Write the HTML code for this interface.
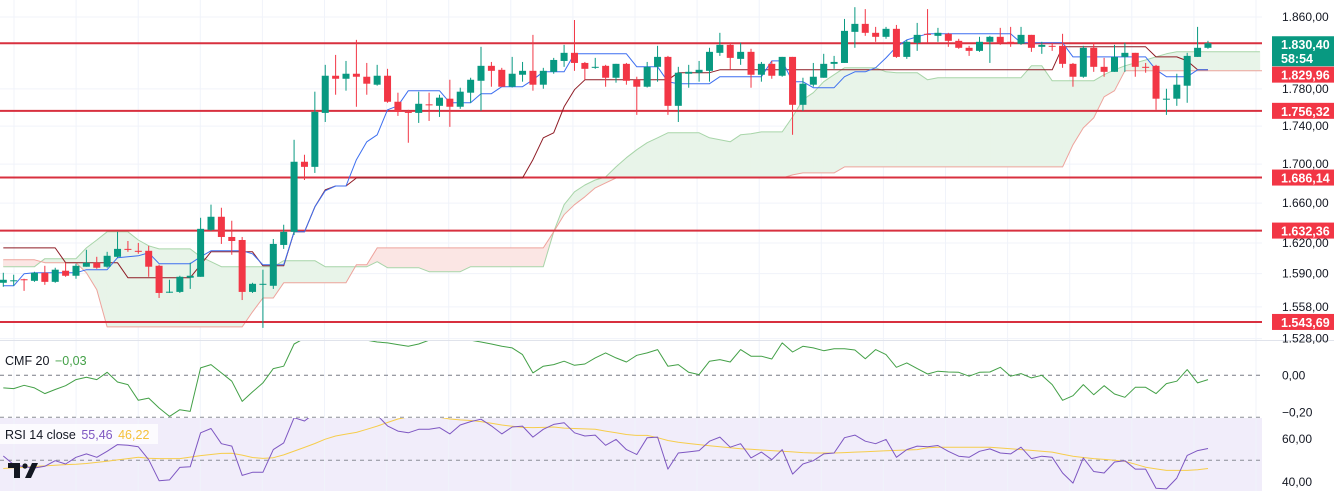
<!DOCTYPE html>
<html><head><meta charset="utf-8"><style>
html,body{margin:0;padding:0;background:#fff;}
svg{display:block;font-family:"Liberation Sans",sans-serif;}
</style></head><body>
<svg id="chart" width="1334" height="491" xmlns="http://www.w3.org/2000/svg">
<defs>
<clipPath id="cMain"><rect x="0" y="0" width="1262" height="340"/></clipPath>
<clipPath id="cCmf"><rect x="0" y="341" width="1262" height="76"/></clipPath>
<clipPath id="cRsi"><rect x="0" y="418" width="1262" height="73"/></clipPath>
</defs>
<rect x="0" y="418" width="1262" height="73" fill="#f1edfa"/>
<g id="grid"></g>
<g id="cloud" clip-path="url(#cMain)"></g>
<g id="levels"></g>
<g id="lines" clip-path="url(#cMain)"></g>
<g id="candles" clip-path="url(#cMain)"></g>
<line x1="0" y1="340.5" x2="1334" y2="340.5" stroke="#e0e3eb"/>
<g id="cmfg"></g>
<g id="rsig"></g>
<g id="axis"></g>
<g>
<text x="5" y="365" font-size="12.5" fill="#131722">CMF 20 <tspan fill="#43a047" dx="2">−0,03</tspan></text>
</g>
<g>
<rect x="0" y="424" width="158" height="20" fill="#ffffff" opacity="0.75"/>
<text x="5" y="439" font-size="12.5" fill="#131722">RSI 14 close <tspan fill="#7e57c2" dx="2">55,46</tspan> <tspan fill="#f5c13b" dx="2">46,22</tspan></text>
</g>
<g>
<rect x="8" y="463" width="12" height="5" fill="#131722"/>
<rect x="14" y="463" width="6" height="15" fill="#131722"/>
<circle cx="25" cy="466" r="2.6" fill="#131722"/>
<polygon points="32,463 38,463 31,478 25,478" fill="#131722"/>
</g>
</svg>
<script>
// ---- price data (in 1/1000 units, e.g. 1830.4 = 1.830,40) ----
const openV=[1581.1,1583.0,1584.5,1583.0,1590.8,1582.0,1592.8,1587.9,1596.7,1600.6,1596.7,1606.4,1614.2,1612.3,1612.3,1597.6,1572.0,1572.3,1586.0,1586.9,1633.1,1646.2,1626.0,1623.0,1572.3,1579.6,1578.2,1618.1,1631.1,1702.5,1697.2,1754.1,1794.4,1791.1,1796.6,1793.3,1784.6,1794.4,1766.1,1755.2,1754.1,1763.3,1761.7,1769.4,1760.7,1775.9,1788.9,1805.3,1800.9,1782.4,1795.5,1799.8,1784.6,1798.7,1810.7,1819.7,1808.5,1803.1,1805.3,1792.2,1807.5,1790.0,1782.4,1804.2,1815.2,1761.7,1796.6,1797.7,1799.8,1819.7,1828.6,1813.0,1820.8,1795.5,1807.5,1794.4,1815.2,1762.8,1784.6,1792.2,1807.5,1808.5,1843.2,1852.2,1842.1,1837.6,1846.6,1815.2,1830.9,1841.0,1838.7,1841.0,1833.1,1825.3,1821.9,1832.0,1837.6,1832.0,1829.8,1839.8,1826.4,1827.5,1827.5,1807.5,1793.3,1825.3,1804.2,1798.7,1815.2,1819.7,1804.2,1805.3,1769.0,1769.4,1783.5,1815.2,1825.3];
const closeV=[1584.0,1583.5,1584.0,1590.8,1582.0,1593.8,1587.9,1597.6,1600.6,1595.7,1607.4,1614.2,1613.3,1611.3,1596.7,1571.3,1572.5,1586.9,1587.9,1634.1,1646.2,1626.0,1622.0,1572.3,1580.1,1580.1,1619.1,1631.1,1702.5,1697.2,1755.2,1794.4,1791.1,1796.6,1793.3,1785.7,1794.4,1766.1,1755.2,1754.1,1763.9,1762.8,1770.5,1760.7,1777.0,1790.0,1805.3,1799.8,1782.4,1796.6,1799.8,1784.6,1799.8,1811.8,1819.7,1808.5,1802.0,1804.2,1792.2,1807.5,1788.9,1782.4,1804.2,1815.2,1761.7,1797.7,1798.7,1800.9,1820.8,1828.6,1814.1,1820.8,1795.5,1807.5,1794.4,1815.2,1762.8,1785.7,1793.3,1807.5,1809.6,1844.3,1852.2,1842.1,1837.6,1846.6,1815.2,1832.0,1839.8,1839.8,1842.1,1833.1,1825.3,1821.9,1832.0,1837.6,1830.9,1829.8,1839.8,1825.3,1828.6,1826.4,1807.5,1793.3,1825.3,1804.2,1798.7,1815.2,1819.7,1804.2,1803.1,1769.4,1769.4,1784.6,1816.3,1825.3,1830.4];
const highV=[1590.8,1588.9,1585.0,1591.8,1597.6,1595.7,1600.6,1599.6,1613.3,1606.4,1611.3,1631.1,1622.0,1620.1,1617.2,1598.6,1584.0,1587.9,1600.6,1645.2,1658.4,1655.3,1642.2,1626.0,1581.1,1593.8,1624.0,1638.2,1725.5,1709.8,1777.0,1806.4,1817.4,1810.7,1834.2,1808.5,1806.4,1802.0,1775.9,1757.4,1777.0,1775.9,1773.7,1790.0,1781.3,1792.2,1826.4,1809.6,1803.1,1815.2,1809.6,1839.8,1803.1,1814.1,1828.6,1856.6,1809.6,1814.1,1806.4,1807.5,1808.5,1793.3,1809.6,1827.5,1816.3,1804.2,1806.4,1810.7,1825.3,1842.1,1830.9,1830.9,1824.2,1809.6,1810.7,1815.2,1815.2,1792.2,1808.5,1818.6,1816.3,1857.8,1871.2,1869.0,1848.8,1848.8,1851.0,1834.2,1853.3,1869.0,1847.7,1842.1,1835.4,1827.5,1837.6,1838.7,1847.7,1848.8,1848.8,1839.8,1832.0,1830.9,1841.0,1808.5,1827.5,1830.9,1814.1,1828.6,1830.9,1819.7,1808.5,1806.4,1780.2,1796.6,1819.7,1848.8,1833.1];
const lowV=[1577.2,1578.2,1573.3,1582.0,1579.1,1581.1,1586.9,1585.0,1596.7,1594.7,1595.7,1605.5,1611.3,1609.4,1586.9,1566.5,1571.3,1571.3,1575.2,1586.9,1632.1,1619.1,1608.4,1564.5,1571.3,1538.1,1575.2,1614.2,1628.0,1683.6,1690.9,1744.4,1773.7,1778.1,1760.7,1773.7,1783.5,1765.0,1750.9,1722.4,1743.4,1745.5,1749.8,1739.2,1758.5,1765.0,1756.3,1782.4,1782.4,1781.5,1787.9,1778.1,1780.2,1796.6,1804.2,1799.8,1790.0,1802.0,1782.4,1786.8,1784.6,1752.0,1781.5,1787.9,1752.0,1744.4,1781.3,1787.9,1787.9,1816.3,1800.9,1806.4,1781.3,1787.9,1791.1,1793.3,1730.8,1756.3,1782.4,1792.2,1802.0,1808.5,1825.3,1838.7,1832.0,1835.4,1814.1,1813.0,1821.9,1830.9,1832.0,1826.4,1824.2,1816.3,1820.8,1808.5,1828.6,1826.4,1828.6,1820.8,1818.6,1821.9,1803.1,1782.4,1792.2,1798.7,1793.3,1798.7,1798.7,1793.3,1797.7,1757.4,1752.0,1761.7,1765.0,1815.2,1824.2];
const tenkan=[1578.2,1578.2,1589.8,1590.8,1590.8,1590.8,1590.8,1590.8,1593.8,1593.8,1593.8,1605.5,1606.4,1607.4,1610.3,1599.6,1599.6,1599.6,1599.6,1606.4,1612.3,1612.3,1612.3,1612.3,1609.4,1598.6,1598.6,1598.6,1631.1,1631.1,1656.3,1672.5,1677.5,1677.5,1704.6,1723.4,1730.8,1757.4,1761.7,1778.1,1778.1,1778.1,1778.1,1765.0,1765.0,1765.0,1774.8,1774.8,1782.4,1782.4,1782.4,1790.0,1798.7,1798.7,1798.7,1818.6,1818.6,1818.6,1818.6,1818.6,1818.6,1804.2,1804.2,1804.2,1787.9,1785.7,1785.7,1785.7,1785.7,1793.3,1793.3,1793.3,1793.3,1793.3,1810.7,1810.7,1787.9,1787.9,1781.3,1781.3,1781.3,1793.3,1798.7,1798.7,1803.1,1814.1,1826.4,1834.2,1837.6,1841.0,1841.0,1841.0,1841.0,1841.0,1841.0,1841.0,1841.0,1841.0,1830.9,1830.9,1830.9,1830.9,1830.9,1815.2,1815.2,1815.2,1815.2,1815.2,1815.2,1815.2,1815.2,1800.9,1793.3,1793.3,1793.3,1800.9,1800.9];
const kijun=[1615.2,1615.2,1615.2,1615.2,1615.2,1615.2,1600.6,1600.6,1600.6,1600.6,1600.6,1600.6,1586.0,1586.0,1586.0,1586.0,1586.0,1586.0,1586.0,1598.6,1611.3,1611.3,1611.3,1611.3,1611.3,1597.6,1597.6,1597.6,1631.1,1631.1,1656.3,1673.5,1677.5,1677.5,1685.7,1685.7,1685.7,1685.7,1685.7,1685.7,1685.7,1685.7,1685.7,1685.7,1685.7,1685.7,1685.7,1685.7,1685.7,1685.7,1685.7,1704.6,1727.6,1732.9,1760.7,1779.2,1790.0,1790.0,1790.0,1790.0,1790.0,1790.0,1790.0,1790.0,1790.0,1797.7,1797.7,1797.7,1797.7,1800.9,1800.9,1800.9,1800.9,1800.9,1800.9,1800.9,1800.9,1800.9,1800.9,1800.9,1800.9,1800.9,1800.9,1800.9,1800.9,1800.9,1800.9,1800.9,1800.9,1800.9,1800.9,1800.9,1800.9,1800.9,1800.9,1800.9,1800.9,1800.9,1800.9,1800.9,1800.9,1800.9,1826.4,1826.4,1826.4,1826.4,1826.4,1826.4,1826.4,1826.4,1826.4,1815.2,1815.2,1815.2,1810.7,1800.9,1800.9];
const spanA=[1596.7,1596.7,1596.7,1596.7,1604.5,1604.5,1604.5,1604.5,1615.2,1623.0,1631.1,1631.1,1631.1,1623.0,1617.2,1614.2,1614.2,1614.2,1614.2,1606.4,1601.6,1596.7,1596.7,1596.7,1596.7,1596.7,1596.7,1602.6,1602.6,1602.6,1602.6,1596.7,1596.7,1596.7,1596.7,1596.7,1601.6,1595.7,1595.7,1595.7,1595.7,1591.8,1591.8,1591.8,1591.8,1596.7,1596.7,1596.7,1596.7,1596.7,1596.7,1596.7,1596.7,1631.1,1658.4,1671.5,1678.5,1683.6,1686.7,1697.2,1706.7,1715.1,1722.4,1727.6,1732.9,1732.9,1732.9,1732.9,1727.6,1725.5,1723.4,1730.8,1731.8,1733.9,1733.9,1733.9,1749.8,1768.3,1775.9,1787.9,1795.5,1803.1,1803.1,1803.1,1803.1,1798.7,1797.7,1797.7,1797.7,1790.0,1792.2,1792.2,1792.2,1792.2,1792.2,1792.2,1792.2,1792.2,1792.2,1805.3,1805.3,1788.9,1788.9,1788.9,1788.9,1788.9,1795.5,1800.9,1805.3,1808.5,1811.8,1815.2,1818.6,1820.8,1820.8,1820.8,1820.8,1820.8,1820.8,1820.8,1820.8,1820.8];
const spanB=[1603.5,1603.5,1603.5,1603.5,1600.6,1600.6,1600.6,1600.6,1590.8,1574.3,1539.0,1539.0,1539.0,1539.0,1539.0,1539.0,1539.0,1539.0,1539.0,1539.0,1539.0,1539.0,1539.0,1539.0,1553.2,1566.5,1566.5,1581.1,1581.1,1581.1,1581.1,1581.1,1581.1,1581.1,1598.6,1598.6,1615.2,1615.2,1615.2,1615.2,1615.2,1615.2,1615.2,1615.2,1615.2,1615.2,1615.2,1615.2,1615.2,1615.2,1615.2,1615.2,1615.2,1631.1,1648.3,1658.4,1666.4,1675.5,1680.6,1685.7,1685.7,1685.7,1685.7,1685.7,1685.7,1685.7,1685.7,1685.7,1685.7,1685.7,1685.7,1685.7,1685.7,1685.7,1685.7,1685.7,1688.9,1690.9,1690.9,1690.9,1690.9,1697.2,1697.2,1697.2,1697.2,1697.2,1697.2,1697.2,1697.2,1697.2,1697.2,1697.2,1697.2,1697.2,1697.2,1697.2,1697.2,1697.2,1697.2,1697.2,1697.2,1697.2,1697.2,1720.3,1738.1,1748.7,1771.5,1778.1,1799.8,1799.8,1799.8,1799.8,1799.8,1799.8,1799.8,1799.8,1799.8,1799.8,1799.8,1799.8,1799.8,1799.8,1799.8];
const levels=[1830.40,1756.32,1686.14,1632.36,1543.69];
const levelLabels=["1.830,40","1.756,32","1.686,14","1.632,36","1.543,69"];
const priceTicks=[1860,1780,1740,1700,1660,1620,1590,1558,1528];
const priceTickLabels=["1.860,00","1.780,00","1.740,00","1.700,00","1.660,00","1.620,00","1.590,00","1.558,00","1.528,00"];
// ---- indicators ----
const cmf=[-0.068,-0.072,-0.054,-0.068,-0.099,-0.077,-0.056,-0.023,-0.011,-0.023,0.016,-0.036,-0.050,-0.135,-0.123,-0.177,-0.222,-0.186,-0.195,0.040,0.058,0.013,-0.032,-0.141,-0.090,-0.041,0.036,0.049,0.169,0.20,0.22,0.23,0.22,0.21,0.20,0.19,0.18,0.175,0.166,0.157,0.169,0.19,0.20,0.21,0.20,0.19,0.18,0.169,0.157,0.148,0.112,0.013,0.049,0.058,0.076,0.054,0.061,0.094,0.121,0.094,0.072,0.108,0.121,0.139,0.049,0.058,0.016,0.004,0.076,0.085,0.072,0.139,0.103,0.103,0.088,0.175,0.126,0.157,0.148,0.133,0.144,0.144,0.137,0.090,0.139,0.112,0.043,0.067,0.036,0.007,0.022,0.018,0.016,-0.005,0.016,0.018,0.043,-0.005,0.009,-0.014,0.000,-0.050,-0.135,-0.110,-0.050,-0.105,-0.056,-0.101,-0.119,-0.065,-0.065,-0.099,-0.045,-0.032,0.031,-0.041,-0.023];
const cmfTicks=[0,-0.2];
const cmfTickLabels=["0,00","−0,20"];
const rsi=[52,48,47,46.4,47.2,49.8,48.3,51.4,53.0,51.4,54.2,57.3,57.0,56.3,50.3,40.5,40.9,46.7,47.0,62.8,64.8,57.7,56.6,43.0,44.4,44.4,55.0,58.1,69.8,68.3,72,74,73,71,72,73,71,66,63.6,62.8,64.4,64.4,65.2,62.3,66.4,68,69.1,66,62.3,65.5,65.9,60.8,64.4,66.7,67.5,62.8,61.3,61.7,57.0,59.7,55.0,52.7,60.5,60.8,45.9,53.4,53.9,54.5,58.9,60.8,56.1,57.7,51.1,53.8,50.3,55.0,43.6,48.3,49.8,53.0,53.4,60.5,61.7,58.9,57.7,59.7,51.4,55.0,56.6,56.3,56.9,54.2,51.9,51.4,54.2,55.3,53.4,53.0,56.1,50.8,51.9,51.4,44.1,39.4,51.1,44.8,44.1,49.2,49.8,45.9,45.9,37.0,36.7,41.7,52.3,54.5,55.5];
const rsiMa=[46.2,46.5,46.8,47.1,47.4,47.7,48.0,48.2,48.5,49.0,49.6,50.2,50.8,51.4,51.0,50.8,50.8,50.8,51.5,52.2,52.7,53.2,53.3,52.4,51.3,50.9,51.2,52.5,54.3,56.0,57.8,59.8,61.3,62.2,63.0,64.4,65.9,67.6,69.2,70.2,70.6,70.4,70.0,69.2,68.8,68.5,68.0,67.2,66.4,65.8,65.3,65.2,65.3,65.5,65.0,64.8,64.6,64.4,63.6,62.8,62.0,61.6,61.6,60.5,59.2,58.4,57.8,57.3,56.8,56.3,55.8,55.4,55.1,54.8,54.5,54.2,53.9,53.6,53.4,53.4,53.4,53.6,53.8,54.0,54.2,54.4,54.6,54.8,55.0,55.8,56.1,56.1,56.1,56.1,56.1,56.1,55.7,55.4,55.0,54.6,54.2,53.8,52.8,51.9,51.3,50.8,50.4,50.0,49.5,48.2,46.8,46.0,45.3,45.3,45.3,45.6,46.2];
const rsiTicks=[60,40];
const rsiTickLabels=["60,00","40,00"];

const NS="http://www.w3.org/2000/svg";
function mk(tag,attrs,parent){const e=document.createElementNS(NS,tag);for(const k in attrs)e.setAttribute(k,attrs[k]);parent.appendChild(e);return e;}
const X0=3.3, STEP=10.385;
function xAt(i){return X0+i*STEP;}
function yP(p){return 17+Math.log(1860/p)*1636;}
function yC(v){return 375.3-v*185;}
function yR(v){return 460.3-(v-50)*2.15;}

const grid=document.getElementById('grid');
for(let gx=14;gx<1262;gx+=62.1){const l=mk('line',{x1:gx,y1:0,x2:gx,y2:491,stroke:'#f0f3fa'},grid);

}
priceTicks.forEach(p=>{const l=mk('line',{x1:0,y1:yP(p),x2:1262,y2:yP(p),stroke:'#f0f3fa'},grid);

});

// cloud
const cloud=document.getElementById('cloud');
for(let i=0;i<spanA.length-1;i++){
  const up=(spanA[i]+spanA[i+1])>=(spanB[i]+spanB[i+1]);
  const pts=[[xAt(i),yP(spanA[i])],[xAt(i+1),yP(spanA[i+1])],[xAt(i+1),yP(spanB[i+1])],[xAt(i),yP(spanB[i])]].map(p=>p.join(',')).join(' ');
  const pg=mk('polygon',{points:pts,fill:up?'#e8f4e9':'#fbe6e4',stroke:up?'#e8f4e9':'#fbe6e4','stroke-width':0.6},cloud);
  
  
}
function poly(arr,yf,color,parent,name,w){
  const d=arr.map((v,i)=>(i?'L':'M')+xAt(i).toFixed(1)+','+yf(v).toFixed(1)).join('');
  const p=mk('path',{d:d,fill:'none',stroke:color,'stroke-width':w||1,'stroke-linejoin':'round'},parent);
  
  
}
poly(spanA,yP,'#a8d5a9',cloud,'leading-span-a');
poly(spanB,yP,'#eea39c',cloud,'leading-span-b');

// levels
const lv=document.getElementById('levels');
levels.forEach((p,k)=>{const l=mk('line',{x1:0,y1:yP(p),x2:1262,y2:yP(p),stroke:'#d8303f','stroke-width':2},lv);

});

// ichimoku lines
const lines=document.getElementById('lines');
poly(kijun,yP,'#8e1b24',lines,'kijun-line');
poly(tenkan,yP,'#3d6ff0',lines,'tenkan-line');

// candles
const cg=document.getElementById('candles');
for(let i=0;i<openV.length;i++){
  const up=closeV[i]>=openV[i];const col=up?'#089981':'#f23645';const x=xAt(i);
  const g=mk('g',{},cg);
  
  
  mk('line',{x1:x,y1:yP(highV[i]),x2:x,y2:yP(lowV[i]),stroke:col,'stroke-width':1},g);
  const t=yP(Math.max(openV[i],closeV[i])),b=yP(Math.min(openV[i],closeV[i]));
  mk('rect',{x:x-3.5,y:t,width:7,height:Math.max(1,b-t),fill:col},g);
}

// CMF pane
const cm=document.getElementById('cmfg');
const z=mk('line',{x1:0,y1:yC(0),x2:1262,y2:yC(0),stroke:'#787b86','stroke-dasharray':'4,4'},cm);


const cl=mk('g',{'clip-path':'url(#cCmf)'},cm);
poly(cmf,yC,'#43a047',cl,'cmf-line');
cmfTicks.forEach((v,k)=>{const t=mk('text',{x:1282,y:yC(v)+4,'font-size':12,fill:'#131722'},cm);t.textContent=cmfTickLabels[k];

});

// RSI pane
const rg=document.getElementById('rsig');
[70,50].forEach(v=>{const l=mk('line',{x1:0,y1:yR(v),x2:1262,y2:yR(v),stroke:'#8a8d96','stroke-dasharray':'4,4'},rg);

});
const rl=mk('g',{'clip-path':'url(#cRsi)'},rg);
poly(rsiMa,yR,'#f6cd4c',rl,'rsi-ma-line');
poly(rsi,yR,'#7e57c2',rl,'rsi-line');
rsiTicks.forEach((v,k)=>{const t=mk('text',{x:1282,y:yR(v)+4,'font-size':12,fill:'#131722'},rg);t.textContent=rsiTickLabels[k];

});

// price axis
const ax=document.getElementById('axis');
priceTicks.forEach((p,k)=>{const t=mk('text',{x:1282,y:yP(p)+4,'font-size':12,fill:'#131722'},ax);t.textContent=priceTickLabels[k];

});
// badges
function badge(y,h,col,lines,name){const g=mk('g',{},ax);


mk('rect',{x:1272,y:y,width:62,height:h,fill:col},g);
lines.forEach((s,k)=>{const t=mk('text',{x:1281,y:y+13+k*14,'font-size':12.5,fill:'#fff','font-weight':'bold'},g);t.textContent=s;});}
badge(yP(closeV[closeV.length-1])-7,30,'#089981',[levelLabels[0],'58:54'],'last-price-badge');
badge(yP(1829.96)+23,16,'#f23645',['1.829,96'],'level-badge');
for(let k=1;k<levels.length;k++) badge(yP(levels[k])-8,16,'#f23645',[levelLabels[k]],'level-badge');
</script>
</body></html>
